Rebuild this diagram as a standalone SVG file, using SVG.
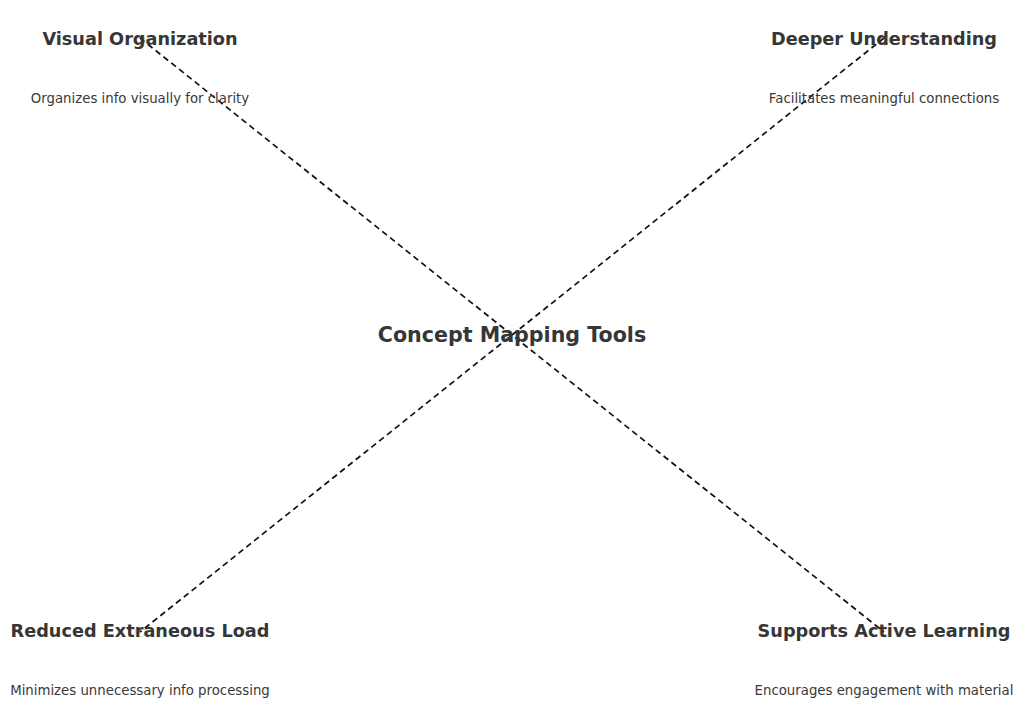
<svg xmlns="http://www.w3.org/2000/svg" width="1024" height="708" viewBox="0 0 1024 708">
<style>
.t{font-family:"DejaVu Sans",sans-serif;font-weight:bold;font-size:17.7px;fill:#363636;text-anchor:middle}
.d{font-family:"DejaVu Sans",sans-serif;font-size:13.3px;fill:#3a3a3a;text-anchor:middle}
.c{font-family:"DejaVu Sans",sans-serif;font-weight:bold;font-size:20.6px;fill:#363636;text-anchor:middle}
.e{stroke:#111;stroke-width:1.7;stroke-dasharray:6,4;fill:none}
.g{fill:none;stroke:#9ed99e;stroke-width:1;opacity:0.7}
</style>
<rect width="1024" height="708" fill="#fff"/>
<g id="connectors">
<line class="e" x1="140" y1="38" x2="884" y2="632"/>
<line class="e" x1="884" y1="38" x2="140" y2="632"/>
</g>
<g id="center"><circle cx="512" cy="335" r="6" fill="none" stroke="#cfe6f5" opacity="0.6"/><text class="c" x="512" y="342">Concept Mapping Tools</text></g>
<g id="visual"><circle class="g" cx="140" cy="40" r="5"/><text class="t" x="140" y="45">Visual Organization</text><text class="d" x="140" y="103">Organizes info visually for clarity</text></g>
<g id="deeper"><circle class="g" cx="884" cy="40" r="5"/><text class="t" x="884" y="45">Deeper Understanding</text><text class="d" x="884" y="103">Facilitates meaningful connections</text></g>
<g id="reduced"><circle class="g" cx="140" cy="632" r="5"/><text class="t" x="140" y="637">Reduced Extraneous Load</text><text class="d" x="140" y="695">Minimizes unnecessary info processing</text></g>
<g id="supports"><circle class="g" cx="884" cy="632" r="5"/><text class="t" x="884" y="637">Supports Active Learning</text><text class="d" x="884" y="695">Encourages engagement with material</text></g>
</svg>
